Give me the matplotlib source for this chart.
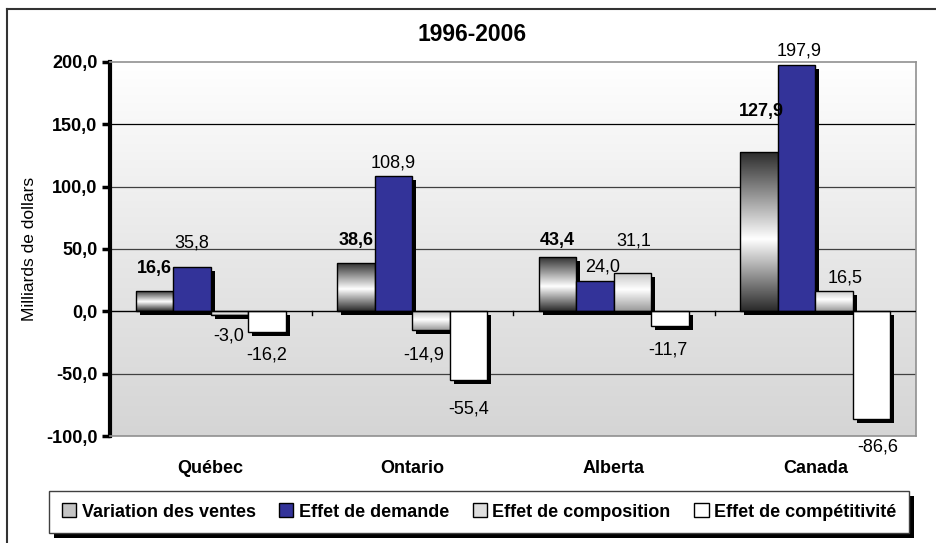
import matplotlib.pyplot as plt
import matplotlib.transforms as mtransforms
from matplotlib.colors import LinearSegmentedColormap
from matplotlib.patches import Rectangle
import numpy as np

plt.rcParams['font.family'] = ['Liberation Sans', 'DejaVu Sans']

categories = ['Québec', 'Ontario', 'Alberta', 'Canada']
series = ['Variation des ventes', 'Effet de demande', 'Effet de composition', 'Effet de compétitivité']
variation = [16.6, 38.6, 43.4, 127.9]
demande = [35.8, 108.9, 24.0, 197.9]
composition = [-3.0, -14.9, 31.1, 16.5]
competitivite = [-16.2, -55.4, -11.7, -86.6]
yticks = [-100, -50, 0, 50, 100, 150, 200]
title = '1996-2006'
ylabel = 'Milliards de dollars'

values = [variation, demande, composition, competitivite]

# label offsets in pixels (dx, dy) measured from bar end
label_dx = [[0, 0, 0, 2],
            [0, 0, 8, 3],
            [-1, -7, 1, 11],
            [0, 0, -2, 6]]
label_dy = [[22, 23, 17, 40],
            [24, 13, 14, 14],
            [-21, -25, 32, 13],
            [-23, -29, -24, -28]]
label_bold = [True, False, False, False]

fig = plt.figure(figsize=(9.37, 5.43), dpi=100)
ax = fig.add_axes([110/937, 1-436/543, 806/937, 374/543])

ax.set_xlim(0, len(categories))
ax.set_ylim(yticks[0], yticks[-1])

# plot background gradient
bg = LinearSegmentedColormap.from_list('bg', ['#d5d5d5', '#e8e8e8', '#ffffff'])
grad = np.linspace(0, 1, 256).reshape(-1, 1)
ax.imshow(grad, cmap=bg, extent=(0, len(categories), yticks[0], yticks[-1]),
          origin='lower', aspect='auto', zorder=0)

for t in yticks[1:-1]:
    if t == 0:
        continue
    ax.axhline(t, color='#000000' if t == 150 else '#404040', lw=0.9, zorder=1)

var_cmap = LinearSegmentedColormap.from_list('var', [(0, '#2a2a2a'), (0.55, '#ffffff'), (1, '#2a2a2a')])
comp_cmap = LinearSegmentedColormap.from_list('comp', [(0, '#c4c4c4'), (0.45, '#ffffff'), (1, '#9a9a9a')])
fills = [var_cmap, '#333399', comp_cmap, '#ffffff']

w = 0.186
shadow_tr = ax.transData + mtransforms.ScaledTranslation(4/100, -4/100, fig.dpi_scale_trans)
for s, vals in enumerate(values):
    for i, v in enumerate(vals):
        x0 = i + 0.5 + (s - 2) * w
        y0 = min(0, v)
        h = abs(v)
        sh = Rectangle((x0, y0), w, h, facecolor='black', edgecolor='none',
                       transform=shadow_tr, zorder=2 + s * 0.1)
        ax.add_patch(sh)
        f = fills[s]
        if isinstance(f, str):
            r = Rectangle((x0, y0), w, h, facecolor=f, edgecolor='black', lw=1, zorder=3 + s * 0.1)
            ax.add_patch(r)
        else:
            r = Rectangle((x0, y0), w, h, facecolor='none', edgecolor='black', lw=1, zorder=3.05 + s * 0.1)
            ax.add_patch(r)
            im = ax.imshow(grad[::-1], cmap=f, extent=(x0, x0 + w, y0, y0 + h),
                           origin='lower', aspect='auto', zorder=3 + s * 0.1)
            clip = Rectangle((x0, y0), w, h, transform=ax.transData)
            im.set_clip_path(clip)
        txt = f'{v:.1f}'.replace('.', ',')
        ax.annotate(txt, (x0 + w / 2, v), xytext=(label_dx[s][i], label_dy[s][i]),
                    textcoords='offset pixels', ha='center', va='center',
                    fontsize=13, fontweight='bold' if label_bold[s] else 'normal', zorder=6)

ax.set_xlim(0, len(categories))
ax.set_ylim(yticks[0], yticks[-1])

ax.axhline(0, color='black', lw=1, zorder=4)
# category separators on zero line
for b in range(1, len(categories)):
    ax.plot([b, b], [0, -3], color='black', lw=1, zorder=4)

ax.set_yticks(yticks)
ax.set_yticklabels([f'{t:.1f}'.replace('.', ',') for t in yticks], fontsize=13, fontweight='bold')
ax.tick_params(axis='y', direction='out', length=6, width=2.5, pad=3)
ax.set_xticks([i + 0.5 for i in range(len(categories))])
ax.set_xticklabels(categories, fontsize=13, fontweight='bold')
ax.tick_params(axis='x', length=0, pad=17)

for side in ['top', 'right', 'bottom']:
    ax.spines[side].set_color('#909090')
    ax.spines[side].set_linewidth(1.2)
ax.spines['left'].set_color('black')
ax.spines['left'].set_linewidth(3)

ax.set_ylabel(ylabel, fontsize=12.5)
ax.yaxis.set_label_coords(-0.090, 0.5)

fig.text(472/937, 1-34/543, title, ha='center', va='center', fontsize=16.5, fontweight='bold')

# legend
handles = [Rectangle((0, 0), 1, 1, facecolor=c, edgecolor='black', lw=1)
           for c in ['#c4c4c4', '#333399', '#dedede', '#ffffff']]
leg = fig.legend(handles, series, loc='center', bbox_to_anchor=(479/937, 1-512/543), ncol=4,
                 frameon=True, fancybox=False, shadow=False, framealpha=1,
                 prop={'size': 13, 'weight': 'bold'}, handlelength=0.8, handleheight=0.8,
                 handletextpad=0.3, columnspacing=1.3, borderpad=0.7, borderaxespad=0)
leg.get_frame().set_edgecolor('#404040')
leg.get_frame().set_linewidth(1)
leg.set_zorder(5)

# legend shadow drawn behind the frame
fig.canvas.draw()
bb = leg.get_window_extent()
fig.add_artist(Rectangle((bb.x0 + 5, bb.y0 - 5), bb.width, bb.height, transform=None,
                         facecolor='black', edgecolor='none', zorder=4))

# outer border
fig.add_artist(plt.Line2D([7/937, 1], [1-9/543, 1-9/543], color='#333333', lw=1.5))
fig.add_artist(plt.Line2D([7/937, 7/937], [0, 1-9/543], color='#333333', lw=1.5))

fig.savefig('out.png', dpi=100)
